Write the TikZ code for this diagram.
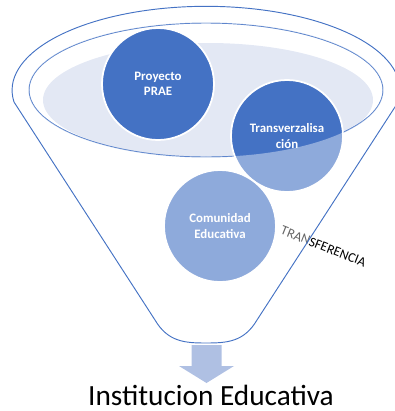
\documentclass[tikz,border=0pt]{standalone}
\usepackage{fontspec}
\setmainfont{Carlito}
\usepackage{tikz}

\definecolor{funnelblue}{HTML}{4472C4}
\definecolor{rimfill}{HTML}{E3E8F4}
\definecolor{arrowblue}{HTML}{AFC0E3}

\begin{document}
\begin{tikzpicture}[x=0.03cm, y=-0.03cm]
    % Styles
    \tikzstyle{outline} = [draw=funnelblue, line width=0.8pt]
    \tikzstyle{bubble} = [circle, fill=funnelblue, draw=white, line width=1.5pt, minimum size=3.36cm, inner sep=0pt, align=center, text=white, font=\fontsize{11}{13}\selectfont\bfseries]
    \tikzstyle{veil} = [fill=white, fill opacity=0.4, even odd rule]

    \useasboundingbox (0,0) rectangle (395,411);

    % Rim of the funnel
    \begin{scope}
        \clip (206,90) ellipse [x radius=177, y radius=67];
        \fill[rimfill] (208,100) ellipse [x radius=165, y radius=57];
    \end{scope}
    \draw[outline] (206,90) ellipse [x radius=177, y radius=67];

    % Nodes
    \node[bubble] (prae) at (158,84) {Proyecto\\PRAE};
    \node[bubble] (transv) at (287,136) {Transverzalisa\\ción};
    \node[bubble] (comunidad) at (220,226) {Comunidad\\Educativa};
    \node[rotate=-21.5, font=\fontsize{11.5}{13}\selectfont] (transfer) at (323.5,246.5) {TRANSFERENCIA};

    % Body of the funnel
    \path[veil] (14,102) arc[start angle=172, end angle=368, x radius=194, y radius=84]
        -- (257,320) .. controls (244,342) and (227,343) .. (206,343)
        .. controls (185,343) and (168,342) .. (155,320) -- cycle
        (206,90) ellipse [x radius=177, y radius=67];
    \draw[outline] (14,102) arc[start angle=172, end angle=368, x radius=194, y radius=84]
        -- (257,320) .. controls (244,342) and (227,343) .. (206,343)
        .. controls (185,343) and (168,342) .. (155,320) -- cycle;

    % Output
    \fill[arrowblue] (191.5,345) -- (221.5,345) -- (221.5,366) -- (234,366)
        -- (206.5,383) -- (179,366) -- (191.5,366) -- cycle;
    \node[anchor=base, font=\fontsize{25}{29}\selectfont] (institucion) at (211,405) {Institucion Educativa};
\end{tikzpicture}
\end{document}
